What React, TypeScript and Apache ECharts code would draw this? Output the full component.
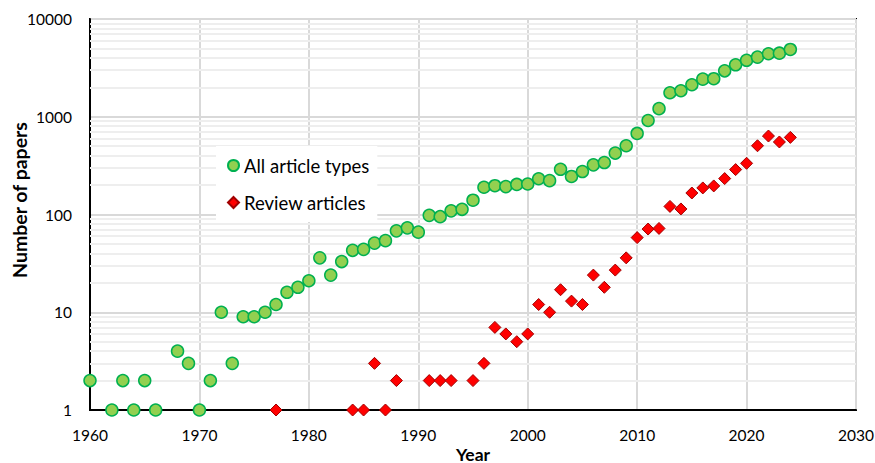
import React, { useEffect, useRef } from "react";
import * as echarts from "echarts";

const years: number[] = [1960,1962,1963,1964,1965,1966,1968,1969,1970,1971,1972,1973,1974,1975,1976,1977,1978,1979,1980,1981,1982,1983,1984,1985,1986,1987,1988,1989,1990,1991,1992,1993,1994,1995,1996,1997,1998,1999,2000,2001,2002,2003,2004,2005,2006,2007,2008,2009,2010,2011,2012,2013,2014,2015,2016,2017,2018,2019,2020,2021,2022,2023,2024];
const allArticles: number[] = [2,1,2,1,2,1,4,3,1,2,10,3,9,9,10,12,16,18,21,36,24,33,43,44,51,54,68,73,66,98,95,109,113,140,190,197,193,203,205,232,222,290,245,275,322,340,425,505,675,915,1210,1760,1845,2125,2425,2450,2950,3400,3780,4070,4410,4470,4880];

const reviewYears: number[] = [1977,1984,1985,1986,1987,1988,1991,1992,1993,1995,1996,1997,1998,1999,2000,2001,2002,2003,2004,2005,2006,2007,2008,2009,2010,2011,2012,2013,2014,2015,2016,2017,2018,2019,2020,2021,2022,2023,2024];
const reviewArticles: number[] = [1,1,1,3,1,2,2,2,2,2,3,7,6,5,6,12,10,17,13,12,24,18,27,36,58,71,72,121,114,166,187,196,233,288,334,505,635,552,615];

const minorGridValues: number[] = [2,3,4,5,6,7,8,9,20,30,40,50,60,70,80,90,200,300,400,500,600,700,800,900,2000,3000,4000,5000,6000,7000,8000,9000];

const seriesNames = ["All article types", "Review articles"];
const xTicks = { min: 1960, max: 2030, interval: 10 };
const yTicks = { min: 1, max: 10000 };

const FONT = "Lato, 'Open Sans', sans-serif";

export default function App() {
  const ref = useRef<HTMLDivElement>(null);
  useEffect(() => {
    if (!ref.current) return;
    const chart = echarts.init(ref.current, undefined, { renderer: "svg" });
    chart.setOption({
      animation: false,
      textStyle: { fontFamily: FONT },
      grid: {
        left: 90,
        right: 19,
        top: 19,
        bottom: 53,
        containLabel: false,
        outerBoundsMode: "none",
        show: true,
        borderColor: "#000",
        borderWidth: 2,
        backgroundColor: "transparent",
      },
      legend: {
        data: seriesNames,
        orient: "vertical",
        left: 216,
        top: 146,
        z: 10,
        backgroundColor: "#fff",
        padding: [10, 8, 10, 11],
        itemWidth: 11,
        itemHeight: 11,
        itemGap: 18,
        textStyle: { fontSize: 18.5, color: "#000", fontFamily: FONT },
      },
      xAxis: {
        type: "value",
        min: xTicks.min,
        max: xTicks.max,
        interval: xTicks.interval,
        name: "Year",
        nameLocation: "middle",
        nameGap: 35,
        nameMoveOverlap: false,
        nameTextStyle: { fontSize: 17.5, fontWeight: "bold", color: "#000", fontFamily: FONT },
        axisLine: { show: true, onZero: false, lineStyle: { color: "#000", width: 2 } },
        axisTick: { show: false },
        axisLabel: { fontSize: 15.5, color: "#000", margin: 17, fontFamily: FONT, formatter: (v: number) => String(v) },
        splitLine: { show: true, lineStyle: { color: "#d9d9d9", width: 2 } },
      },
      yAxis: {
        type: "log",
        logBase: 10,
        min: yTicks.min,
        max: yTicks.max,
        name: "Number of papers",
        nameLocation: "middle",
        nameGap: 61,
        nameMoveOverlap: false,
        nameTextStyle: { fontSize: 19.5, fontWeight: "bold", color: "#000", fontFamily: FONT, padding: [0, 0, 0, 29] },
        axisLine: { show: true, lineStyle: { color: "#000", width: 2 } },
        axisTick: { show: false },
        axisLabel: { fontSize: 15.5, color: "#000", margin: 18, fontFamily: FONT, formatter: (v: number) => String(v) },
        splitLine: { show: true, lineStyle: { color: "#d9d9d9", width: 2 } },
      },
      series: [
        {
          type: "scatter",
          name: "minor",
          data: [],
          z: 1,
          silent: true,
          markLine: {
            silent: true,
            z: 1,
            symbol: "none",
            label: { show: false },
            emphasis: { disabled: true },
            lineStyle: { color: "#eeeeee", width: 2, type: "solid" },
            data: minorGridValues.map((v) => ({ yAxis: v })),
          },
        },
        {
          type: "scatter",
          name: seriesNames[0],
          z: 3,
          symbol: "circle",
          symbolSize: 12,
          itemStyle: { color: "#92d050", borderColor: "#00b050", borderWidth: 1.5, opacity: 1 },
          data: years.map((y, i) => [y, allArticles[i]]),
        },
        {
          type: "scatter",
          name: seriesNames[1],
          z: 4,
          symbol: "diamond",
          symbolSize: 12,
          itemStyle: { color: "#ff0000", borderColor: "#a00000", borderWidth: 1, opacity: 1 },
          data: reviewYears.map((y, i) => [y, reviewArticles[i]]),
        },
      ],
    });
    return () => chart.dispose();
  }, []);
  return <div ref={ref} style={{ width: 875, height: 463, position: "absolute", left: 0, top: 0 }} />;
}
